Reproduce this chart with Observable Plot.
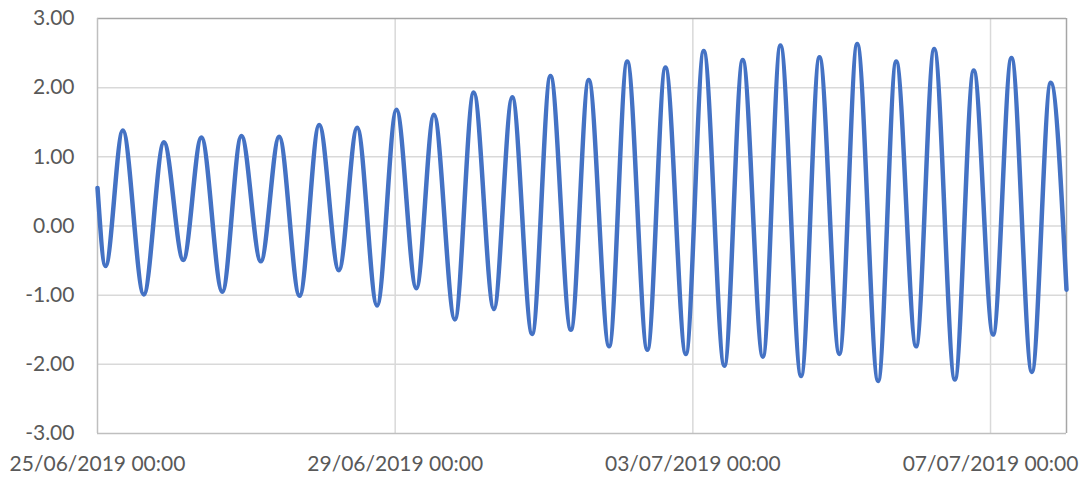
<!DOCTYPE html>
<html>
<head>
<meta charset="utf-8">
<script src="https://cdn.jsdelivr.net/npm/d3@7"></script>
<script src="https://cdn.jsdelivr.net/npm/@observablehq/plot@0.6"></script>
<style>
  html, body { margin: 0; padding: 0; background: #fff; }
  #chart { width: 1084px; height: 482px; }
</style>
</head>
<body>
<div id="chart"></div>
<script>
// Tide level series: high waters, low waters, first and last sample
const highTimes = [
  "2019-06-25T08:10Z","2019-06-25T21:25Z","2019-06-26T09:30Z","2019-06-26T22:25Z",
  "2019-06-27T10:35Z","2019-06-27T23:30Z","2019-06-28T11:45Z","2019-06-29T00:25Z",
  "2019-06-29T12:30Z","2019-06-30T01:20Z","2019-06-30T13:45Z","2019-07-01T02:05Z",
  "2019-07-01T14:25Z","2019-07-02T02:50Z","2019-07-02T15:10Z","2019-07-03T03:30Z",
  "2019-07-03T16:05Z","2019-07-04T04:15Z","2019-07-04T16:50Z","2019-07-05T05:00Z",
  "2019-07-05T17:35Z","2019-07-06T05:50Z","2019-07-06T18:35Z","2019-07-07T06:45Z",
  "2019-07-07T19:25Z"
];
const highLevels = [
  1.38, 1.21, 1.28, 1.30, 1.29, 1.46, 1.42, 1.68, 1.61, 1.93, 1.86, 2.17, 2.11,
  2.38, 2.29, 2.53, 2.40, 2.61, 2.44, 2.63, 2.38, 2.56, 2.25, 2.43, 2.07
];
const lowTimes = [
  "2019-06-25T02:35Z","2019-06-25T14:55Z","2019-06-26T03:40Z","2019-06-26T16:15Z",
  "2019-06-27T04:40Z","2019-06-27T17:10Z","2019-06-28T05:50Z","2019-06-28T18:10Z",
  "2019-06-29T06:50Z","2019-06-29T19:15Z","2019-06-30T07:50Z","2019-06-30T20:10Z",
  "2019-07-01T08:40Z","2019-07-01T21:00Z","2019-07-02T09:20Z","2019-07-02T21:45Z",
  "2019-07-03T10:10Z","2019-07-03T22:35Z","2019-07-04T10:55Z","2019-07-04T23:15Z",
  "2019-07-05T11:45Z","2019-07-06T00:00Z","2019-07-06T12:30Z","2019-07-07T00:50Z",
  "2019-07-07T13:20Z"
];
const lowLevels = [
  -0.58, -0.99, -0.49, -0.95, -0.51, -1.01, -0.64, -1.15, -0.90, -1.35, -1.20, -1.56, -1.50,
  -1.74, -1.79, -1.85, -2.02, -1.89, -2.17, -1.85, -2.24, -1.74, -2.22, -1.57, -2.11
];
const edgeTimes = ["2019-06-25T00:00Z", "2019-07-08T00:30Z"];
const edgeLevels = [0.55, -0.92];

const xTickDates = ["2019-06-25T00:00Z","2019-06-29T00:00Z","2019-07-03T00:00Z","2019-07-07T00:00Z"];
const yTicks = [-3, -2, -1, 0, 1, 2, 3];

// Build table
const series = [];
highTimes.forEach((t, i) => series.push({time: new Date(t), level: highLevels[i]}));
lowTimes.forEach((t, i) => series.push({time: new Date(t), level: lowLevels[i]}));
edgeTimes.forEach((t, i) => series.push({time: new Date(t), level: edgeLevels[i]}));
series.sort((a, b) => a.time - b.time);

const xTicks = xTickDates.map(d => new Date(d));
const startDate = new Date(edgeTimes[0]);
const endDate = new Date(edgeTimes[1]);
const fmtDate = d3.utcFormat("%d/%m/%Y %H:%M");

const chart = Plot.plot({
  width: 1084,
  height: 482,
  marginLeft: 97,
  marginRight: 18,
  marginTop: 18,
  marginBottom: 49,
  style: {fontFamily: "Lato, 'Open Sans', sans-serif", color: "#595959", background: "#fff"},
  x: {type: "utc", domain: [startDate, endDate]},
  y: {domain: [-3, 3]},
  marks: [
    Plot.ruleY(yTicks.slice(1, -1), {stroke: "#d9d9d9", strokeWidth: 1.5}),
    Plot.ruleX(xTicks.slice(1), {stroke: "#d9d9d9", strokeWidth: 1.5}),
    Plot.ruleY([3], {stroke: "#a6a6a6", strokeWidth: 1.5}),
    Plot.ruleX([endDate], {stroke: "#a6a6a6", strokeWidth: 1.5}),
    Plot.ruleY([-3], {stroke: "#bfbfbf", strokeWidth: 1.5}),
    Plot.ruleX([startDate], {stroke: "#bfbfbf", strokeWidth: 1.5}),
    Plot.axisY({ticks: yTicks, tickSize: 0, tickPadding: 23, tickFormat: d => d.toFixed(2),
      fontSize: 21, label: null}),
    Plot.axisX({ticks: xTicks, tickSize: 0, tickPadding: 23, tickFormat: fmtDate,
      fontSize: 21, label: null}),
    Plot.line(series, {x: "time", y: "level", curve: "monotone-x",
      stroke: "#4472c4", strokeWidth: 4.5, strokeLinejoin: "round", strokeLinecap: "round"})
  ]
});
document.getElementById("chart").appendChild(chart);
</script>
</body>
</html>
